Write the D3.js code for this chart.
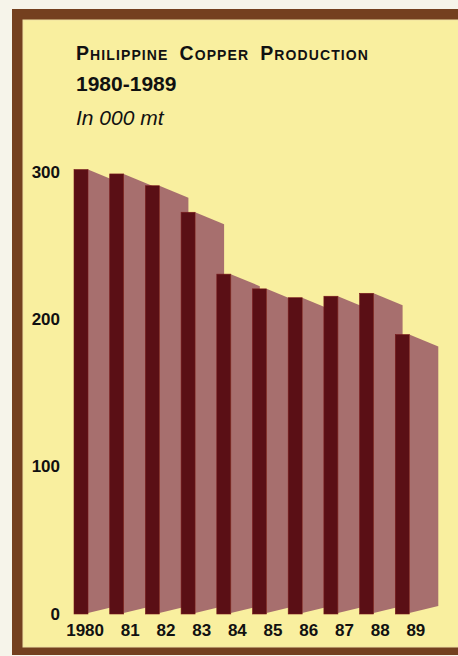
<!DOCTYPE html>
<html>
<head>
<meta charset="utf-8">
<script src="https://cdn.jsdelivr.net/npm/d3@7"></script>
<style>
  html, body { margin: 0; padding: 0; background: #f6f4ea; }
  svg { display: block; }
  text { font-family: "Liberation Sans", Arial, Helvetica, sans-serif; fill: #111; }
</style>
</head>
<body>
<svg id="chart" width="458" height="656"></svg>
<script>
// Philippine copper production, thousand metric tons
const years = ["1980", "1981", "1982", "1983", "1984", "1985", "1986", "1987", "1988", "1989"];
const yearLabels = ["1980", "81", "82", "83", "84", "85", "86", "87", "88", "89"];
const production = [301, 298, 290, 272, 230, 220, 214, 215, 217, 189];
const yTicks = [0, 100, 200, 300];

const svg = d3.select("#chart");

// paper frame: brown border around a yellow panel
svg.append("rect").attr("x", 12).attr("y", 9).attr("width", 470).attr("height", 646)
  .attr("fill", "#74401f");
svg.append("rect").attr("x", 23).attr("y", 20).attr("width", 460).attr("height", 627)
  .attr("fill", "#f9ef9f").attr("stroke", "#efe2a4").attr("stroke-width", 1);

// titles
svg.append("text").attr("x", 76).attr("y", 59.5)
  .style("font-size", "19.5px").style("font-weight", "bold")
  .style("font-variant", "small-caps").style("letter-spacing", "1.1px")
  .style("word-spacing", "4.5px")
  .text("Philippine Copper Production");
svg.append("text").attr("x", 76).attr("y", 90.5)
  .style("font-size", "21px").style("font-weight", "bold")
  .text("1980-1989");
svg.append("text").attr("x", 76).attr("y", 125)
  .style("font-size", "21px").style("font-style", "italic")
  .text("In 000 mt");

// scales
const x = d3.scaleBand().domain(years).range([74, 431]).paddingInner(0).paddingOuter(0);
const y = d3.scaleLinear().domain([0, 300]).range([613, 171]);

const frontW = 14;     // width of the front face
const depthX = 29;     // horizontal reach of the receding side face
const topDrop = 12;    // side face top edge slopes down toward the back
const baseRise = 7;    // side face bottom edge slopes up toward the back

// y axis labels
const yAxis = d3.axisLeft(y).tickValues(yTicks).tickSize(0).tickPadding(0).tickFormat(d3.format("d"));
const gy = svg.append("g").attr("transform", "translate(60,0)").call(yAxis);
gy.select(".domain").remove();
gy.selectAll("text").style("font-size", "17px").style("font-weight", "bold")
  .attr("fill", "#111").attr("dy", "0.36em");

// bars, left to right so each front face covers the previous side face
const bars = svg.append("g").selectAll("g").data(years).join("g");

bars.append("path")
  .attr("fill", "#a76f6e")
  .attr("d", (d, i) => {
    const xr = x(d) + frontW, yt = y(production[i]), yb = y(0);
    return `M${xr},${yt} L${xr + depthX},${yt + topDrop} L${xr + depthX},${yb - baseRise} L${xr},${yb} Z`;
  });

bars.append("rect")
  .attr("x", d => x(d))
  .attr("y", (d, i) => y(production[i]))
  .attr("width", frontW)
  .attr("height", (d, i) => y(0) - y(production[i]) + 1)
  .attr("fill", "#5a0f15")
  .attr("stroke", "#7a1a1c").attr("stroke-width", 0.6);

// x axis labels, right-aligned under each bar's footprint
const xAxis = d3.axisBottom(x).tickSize(0).tickPadding(0)
  .tickFormat((d, i) => yearLabels[i]);
const gx = svg.append("g").call(xAxis);
gx.select(".domain").remove();
gx.selectAll(".tick").attr("transform", d => `translate(${x(d) + 30},630)`);
gx.selectAll("text").style("font-size", "17px").style("font-weight", "bold")
  .attr("text-anchor", "end")
  .attr("fill", "#111").attr("y", 0).attr("dy", "0.36em");
</script>
</body>
</html>
